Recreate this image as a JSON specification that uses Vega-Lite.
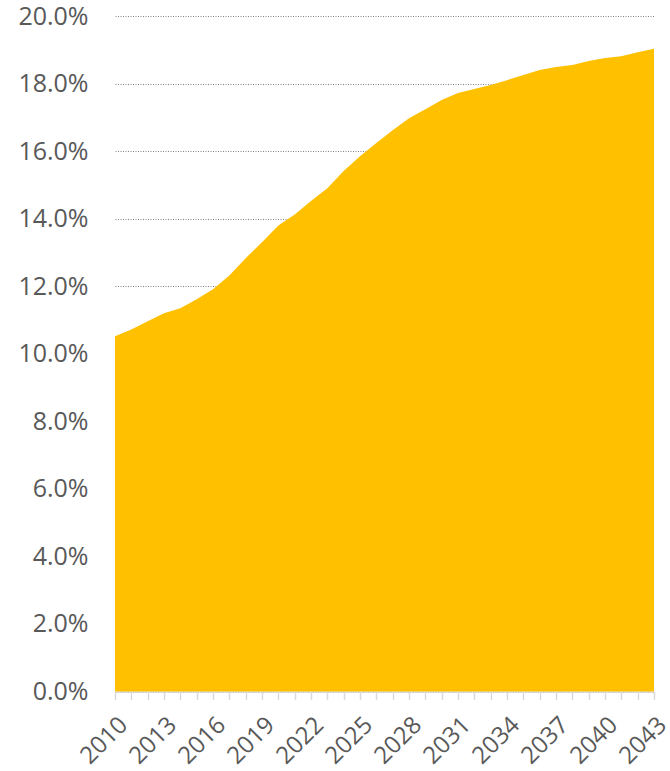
{
  "$schema": "https://vega.github.io/schema/vega-lite/v6.json",
  "autosize": {"type": "none"},
  "padding": {"left": 115, "top": 16, "right": 16, "bottom": 79.5},
  "width": 539,
  "height": 675.5,
  "background": "white",
  "config": {"view": {"stroke": null}, "font": "Open Sans"},
  "data": {"values": [
    {"year": 2010, "share": 10.52},
    {"year": 2011, "share": 10.72},
    {"year": 2012, "share": 10.96},
    {"year": 2013, "share": 11.2},
    {"year": 2014, "share": 11.35},
    {"year": 2015, "share": 11.61},
    {"year": 2016, "share": 11.91},
    {"year": 2017, "share": 12.32},
    {"year": 2018, "share": 12.83},
    {"year": 2019, "share": 13.3},
    {"year": 2020, "share": 13.8},
    {"year": 2021, "share": 14.12},
    {"year": 2022, "share": 14.52},
    {"year": 2023, "share": 14.9},
    {"year": 2024, "share": 15.41},
    {"year": 2025, "share": 15.85},
    {"year": 2026, "share": 16.24},
    {"year": 2027, "share": 16.62},
    {"year": 2028, "share": 16.97},
    {"year": 2029, "share": 17.24},
    {"year": 2030, "share": 17.51},
    {"year": 2031, "share": 17.72},
    {"year": 2032, "share": 17.84},
    {"year": 2033, "share": 17.96},
    {"year": 2034, "share": 18.1},
    {"year": 2035, "share": 18.25},
    {"year": 2036, "share": 18.4},
    {"year": 2037, "share": 18.49},
    {"year": 2038, "share": 18.55},
    {"year": 2039, "share": 18.67},
    {"year": 2040, "share": 18.76},
    {"year": 2041, "share": 18.81},
    {"year": 2042, "share": 18.93},
    {"year": 2043, "share": 19.03}
  ]},
  "mark": {"type": "area", "color": "#FFC000", "interpolate": "linear"},
  "encoding": {
    "x": {
      "field": "year", "type": "quantitative",
      "scale": {"domain": [2010, 2043], "nice": false, "zero": false},
      "axis": {
        "title": null,
        "grid": false,
        "values": [2010,2011,2012,2013,2014,2015,2016,2017,2018,2019,2020,2021,2022,2023,2024,2025,2026,2027,2028,2029,2030,2031,2032,2033,2034,2035,2036,2037,2038,2039,2040,2041,2042,2043],
        "labelExpr": "(datum.value - 2010) % 3 == 0 ? datum.value : ''",
        "labelAngle": -45,
        "labelAlign": "right",
        "labelBaseline": "top",
        "labelFontSize": 24,
        "labelColor": "#595959",
        "labelPadding": 13,
        "labelOverlap": false,
        "labelFlush": false,
        "domainColor": "#D9D9D9",
        "domainWidth": 1.5,
        "tickColor": "#D9D9D9",
        "tickSize": 8,
        "tickWidth": 1.5
      }
    },
    "y": {
      "field": "share", "type": "quantitative",
      "scale": {"domain": [0, 20], "nice": false},
      "axis": {
        "title": null,
        "values": [0,2,4,6,8,10,12,14,16,18,20],
        "labelExpr": "format(datum.value, '.1f') + '%'",
        "labelFontSize": 25,
        "labelColor": "#595959",
        "labelPadding": 27,
        "domain": false,
        "ticks": false,
        "grid": true,
        "gridColor": "#808080",
        "gridDash": [1, 1.5],
        "gridWidth": 1
      }
    }
  }
}
